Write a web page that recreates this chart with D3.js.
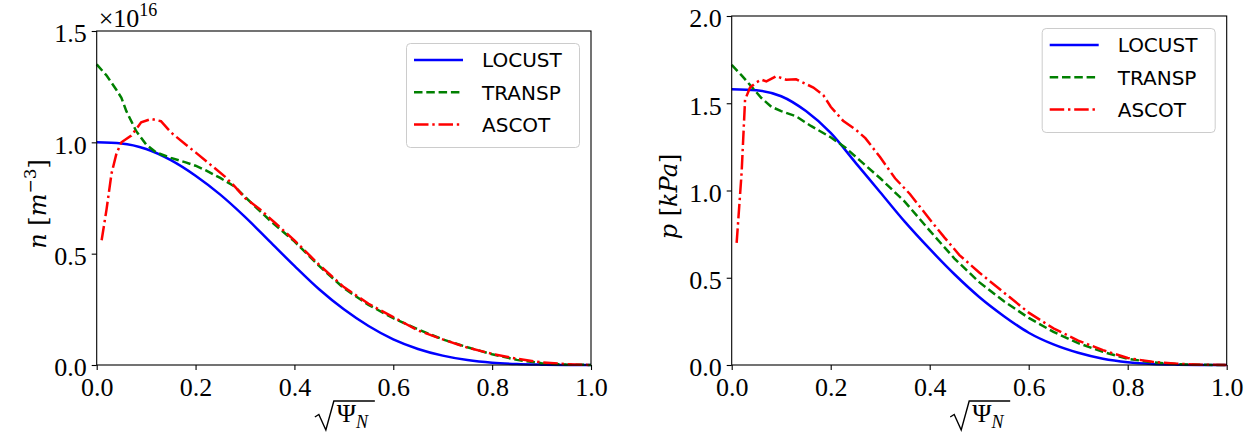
<!DOCTYPE html>
<html>
<head>
<meta charset="utf-8">
<script src="https://cdn.jsdelivr.net/npm/d3@7"></script>
<style>
  body { margin: 0; background: #fff; }
  svg { display: block; }
</style>
</head>
<body>
<svg id="chart"></svg>
<script>
// values (density in 1e16 m^-3, pressure in kPa)
const seriesNames = ['LOCUST', 'TRANSP', 'ASCOT'];
const xTicks = [0, 0.2, 0.4, 0.6, 0.8, 1.0];
const nTicks = [0, 0.5, 1.0, 1.5];
const pTicks = [0, 0.5, 1.0, 1.5, 2.0];

const locustX = [0, 0.05, 0.1, 0.15, 0.2, 0.25, 0.3, 0.35, 0.4, 0.45, 0.5, 0.55, 0.6, 0.65, 0.7, 0.75, 0.8, 0.85, 0.9, 0.95, 1.0];
const nLocust = [1.0, 0.995, 0.97, 0.92, 0.85, 0.765, 0.665, 0.555, 0.445, 0.34, 0.25, 0.175, 0.115, 0.072, 0.042, 0.022, 0.01, 0.004, 0.0015, 0.0003, 0];
const pLocust = [1.58, 1.574, 1.54, 1.455, 1.33, 1.16, 0.99, 0.82, 0.665, 0.52, 0.39, 0.28, 0.185, 0.118, 0.07, 0.036, 0.016, 0.006, 0.002, 0.0005, 0];

const transpNX = [0, 0.02, 0.04, 0.05, 0.06, 0.08, 0.1, 0.12, 0.15, 0.18, 0.2, 0.22, 0.25, 0.28, 0.3, 0.35, 0.4, 0.45, 0.5, 0.55, 0.6, 0.65, 0.7, 0.75, 0.8, 0.85, 0.9, 0.95, 1.0];
const nTransp = [1.35, 1.30, 1.235, 1.20, 1.14, 1.05, 0.99, 0.955, 0.93, 0.91, 0.895, 0.875, 0.84, 0.80, 0.755, 0.65, 0.555, 0.445, 0.345, 0.27, 0.21, 0.16, 0.115, 0.08, 0.048, 0.023, 0.008, 0.002, 0];

const ascotNX = [0.01, 0.02, 0.03, 0.04, 0.05, 0.07, 0.09, 0.11, 0.13, 0.15, 0.18, 0.2, 0.23, 0.26, 0.28, 0.3, 0.33, 0.36, 0.4, 0.45, 0.5, 0.55, 0.6, 0.65, 0.7, 0.75, 0.8, 0.85, 0.9, 0.95, 1.0];
const nAscot = [0.56, 0.70, 0.86, 0.95, 1.0, 1.03, 1.09, 1.105, 1.095, 1.045, 0.99, 0.955, 0.9, 0.845, 0.8, 0.75, 0.70, 0.64, 0.56, 0.45, 0.35, 0.275, 0.215, 0.155, 0.115, 0.078, 0.05, 0.028, 0.012, 0.004, 0];

const transpPX = [0, 0.02, 0.04, 0.06, 0.08, 0.1, 0.13, 0.16, 0.2, 0.23, 0.26, 0.3, 0.35, 0.4, 0.45, 0.5, 0.55, 0.6, 0.65, 0.7, 0.75, 0.8, 0.85, 0.9, 0.95, 1.0];
const pTransp = [1.72, 1.66, 1.595, 1.53, 1.48, 1.455, 1.425, 1.37, 1.305, 1.245, 1.17, 1.07, 0.935, 0.77, 0.61, 0.475, 0.365, 0.27, 0.19, 0.125, 0.075, 0.036, 0.015, 0.005, 0.001, 0];

const ascotPX = [0.01, 0.02, 0.027, 0.037, 0.05, 0.06, 0.07, 0.09, 0.11, 0.13, 0.165, 0.185, 0.2, 0.225, 0.25, 0.27, 0.3, 0.33, 0.36, 0.4, 0.43, 0.46, 0.5, 0.55, 0.6, 0.65, 0.7, 0.75, 0.8, 0.85, 0.9, 0.95, 1.0];
const pAscot = [0.70, 1.10, 1.52, 1.59, 1.62, 1.635, 1.625, 1.655, 1.635, 1.637, 1.59, 1.547, 1.48, 1.40, 1.35, 1.30, 1.19, 1.07, 0.98, 0.835, 0.73, 0.63, 0.53, 0.415, 0.30, 0.21, 0.14, 0.085, 0.04, 0.018, 0.007, 0.002, 0];

const styles = {
  LOCUST: {color: '#0000ff', dash: null},
  TRANSP: {color: '#008000', dash: '8.5,3.8'},
  ASCOT:  {color: '#ff0000', dash: '14.5,3.8,2.4,3.8'}
};

const serif = '"Liberation Serif", "DejaVu Serif", serif';
const labelSerif = '"DejaVu Serif", serif';
const sans = '"DejaVu Sans", sans-serif';

const svg = d3.select('#chart').attr('width', 1256).attr('height', 435);

const zip = (xs, ys) => xs.map((x, i) => ({x: x, y: ys[i]}));

class ProfilePanel {

  constructor(_config, _series) {
    this.config = {
      left: _config.left,
      right: _config.right,
      top: _config.top,
      bottom: _config.bottom,
      yMax: _config.yMax,
      yTicks: _config.yTicks,
      yLabel: _config.yLabel,
      yLabelX: _config.yLabelX,
      offsetText: _config.offsetText || false
    }
    this.series = _series;
    this.initVis();
  }

  initVis() {
    let vis = this;
    const c = vis.config;

    vis.g = svg.append('g');

    vis.xScale = d3.scaleLinear().domain([0, 1]).range([c.left, c.right]);
    vis.yScale = d3.scaleLinear().domain([0, c.yMax]).range([c.bottom, c.top]);

    // x axis
    let xAxis = vis.g.append('g')
      .attr('transform', `translate(0,${c.bottom})`)
      .call(d3.axisBottom(vis.xScale).tickValues(xTicks).tickFormat(d3.format('.1f')).tickSize(5).tickSizeOuter(0).tickPadding(6));
    // y axis
    let yAxis = vis.g.append('g')
      .attr('transform', `translate(${c.left},0)`)
      .call(d3.axisLeft(vis.yScale).tickValues(c.yTicks).tickFormat(d3.format('.1f')).tickSize(5).tickSizeOuter(0).tickPadding(5));

    [xAxis, yAxis].forEach(ax => {
      ax.select('.domain').remove();
      ax.selectAll('line').attr('stroke', '#000').attr('stroke-width', 1.1);
      ax.selectAll('text')
        .attr('fill', '#000')
        .style('font-family', serif)
        .style('font-size', '26px');
    });
    yAxis.selectAll('text').attr('dy', '0.42em');
    xAxis.selectAll('text').attr('dy', '0.78em');

    vis.updateVis();

    // frame
    vis.g.append('rect')
      .attr('x', c.left).attr('y', c.top)
      .attr('width', c.right - c.left).attr('height', c.bottom - c.top)
      .attr('fill', 'none').attr('stroke', '#000').attr('stroke-width', 1.1);

    vis.drawLegend();
    vis.drawLabels();
  }

  updateVis() {
    let vis = this;
    const line = d3.line()
      .x(d => vis.xScale(d.x))
      .y(d => vis.yScale(d.y));

    vis.g.append('g').selectAll('path')
      .data(vis.series)
      .enter()
      .append('path')
      .attr('d', d => (d.name === 'LOCUST' ? line.curve(d3.curveMonotoneX) : line.curve(d3.curveLinear))(d.values))
      .attr('fill', 'none')
      .attr('stroke', d => styles[d.name].color)
      .attr('stroke-width', 2.5)
      .attr('stroke-dasharray', d => styles[d.name].dash);
  }

  drawLegend() {
    let vis = this;
    const c = vis.config;
    const bx = c.right - 12 - 173;
    const by = c.top + 12;

    let leg = vis.g.append('g').attr('transform', `translate(${bx},${by})`);
    leg.append('rect')
      .attr('x', 0.5).attr('y', 0.5)
      .attr('width', 173).attr('height', 104)
      .attr('rx', 4)
      .attr('fill', '#fff').attr('fill-opacity', 0.8)
      .attr('stroke', '#cccccc').attr('stroke-width', 1);

    seriesNames.forEach((name, i) => {
      const yy = 17 + i * 32.3;
      leg.append('line')
        .attr('x1', 8).attr('x2', 57)
        .attr('y1', yy).attr('y2', yy)
        .attr('stroke', styles[name].color)
        .attr('stroke-width', 2.5)
        .attr('stroke-dasharray', styles[name].dash);
      leg.append('text')
        .attr('x', 76).attr('y', yy + 7.3)
        .style('font-family', sans)
        .style('font-size', '20px')
        .attr('fill', '#000')
        .text(name);
    });
  }

  drawLabels() {
    let vis = this;
    const c = vis.config;
    const cx = (c.left + c.right) / 2;

    // x label: sqrt(Psi_N)
    vis.g.append('path')
      .attr('d', `M${cx - 29},417 L${cx - 25},414.5 L${cx - 18},430 L${cx - 10},401 L${cx + 31},401`)
      .attr('fill', 'none').attr('stroke', '#000').attr('stroke-width', 1.4);
    let xl = vis.g.append('text')
      .attr('x', cx - 7).attr('y', 422)
      .style('font-family', serif)
      .style('font-size', '26px')
      .attr('fill', '#000');
    xl.append('tspan').text('Ψ');
    xl.append('tspan').attr('dy', 6).style('font-size', '18px').style('font-style', 'italic').text('N');

    // y label
    const cy = (c.top + c.bottom) / 2 + 6;
    let yl = vis.g.append('text')
      .attr('transform', `translate(${c.yLabelX},${cy}) rotate(-90)`)
      .attr('text-anchor', 'middle')
      .style('font-family', labelSerif)
      .style('font-size', '24px')
      .attr('fill', '#000');
    c.yLabel.forEach(part => {
      let t = yl.append('tspan').text(part.text);
      if (part.italic) t.style('font-style', 'italic');
      if (part.sup) t.attr('dy', -10).style('font-size', '17px');
      if (part.down) t.attr('dy', 10);
    });

    if (c.offsetText) {
      let ot = vis.g.append('text')
        .attr('x', c.left + 2).attr('y', 27)
        .style('font-family', serif)
        .style('font-size', '26px')
        .attr('fill', '#000');
      ot.append('tspan').text('×10');
      ot.append('tspan').attr('dy', -11).style('font-size', '18px').text('16');
    }
  }
}

new ProfilePanel({
  left: 96.7, right: 591, top: 31, bottom: 365, yMax: 1.5, yTicks: nTicks,
  yLabelX: 46, offsetText: true,
  yLabel: [{text: 'n', italic: true}, {text: ' [', italic: false}, {text: 'm', italic: true}, {text: '−3', sup: true}, {text: ']', down: true}]
}, [
  {name: 'LOCUST', values: zip(locustX, nLocust)},
  {name: 'TRANSP', values: zip(transpNX, nTransp)},
  {name: 'ASCOT', values: zip(ascotNX, nAscot)}
]);

new ProfilePanel({
  left: 731.7, right: 1226.7, top: 16, bottom: 365, yMax: 2.0, yTicks: pTicks,
  yLabelX: 677,
  yLabel: [{text: 'p', italic: true}, {text: ' [', italic: false}, {text: 'kPa', italic: true}, {text: ']', italic: false}]
}, [
  {name: 'LOCUST', values: zip(locustX, pLocust)},
  {name: 'TRANSP', values: zip(transpPX, pTransp)},
  {name: 'ASCOT', values: zip(ascotPX, pAscot)}
]);
</script>
</body>
</html>
